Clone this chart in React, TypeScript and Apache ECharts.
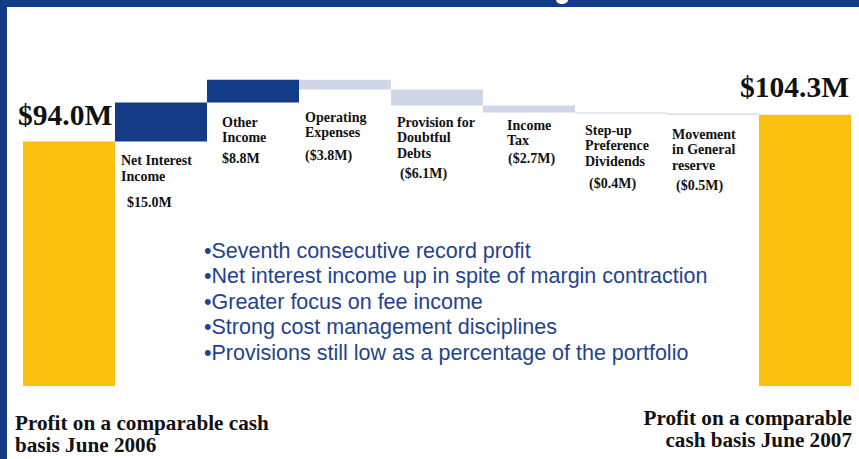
import React, { useEffect, useRef } from "react";
import * as echarts from "echarts";

const categories = [
  "Profit 2006",
  "Net Interest Income",
  "Other Income",
  "Operating Expenses",
  "Provision for Doubtful Debts",
  "Income Tax",
  "Step-up Preference Dividends",
  "Movement in General reserve",
  "Profit 2007",
];
const startValue = 94.0;
const changes = [15.0, 8.8, -3.8, -6.1, -2.7, -0.4, -0.5];
const endValue = 104.3;

const labelLines = [
  ["Net Interest", "Income"],
  ["Other", "Income"],
  ["Operating", "Expenses"],
  ["Provision for", "Doubtful", "Debts"],
  ["Income", "Tax"],
  ["Step-up", "Preference", "Dividends"],
  ["Movement", "in General", "reserve"],
];

const bullets = [
  "Seventh consecutive record profit",
  "Net interest income up in spite of margin contraction",
  "Greater focus on fee income",
  "Strong cost management disciplines",
  "Provisions still low as a percentage of the portfolio",
];

const NAVY = "#133b87";
const GOLD = "#fcc10f";
const LIGHT = "#cfd6e6";
const SERIF = "'Liberation Serif', 'Times New Roman', serif";
const SANS = "'Liberation Sans', Arial, sans-serif";

function fmtChange(v: number) {
  return v >= 0 ? `$${v.toFixed(1)}M` : `($${Math.abs(v).toFixed(1)}M)`;
}

// label layout: [x, first line center y, line height, value x, value y]
const labelPos = [
  [121, 160, 16, 127, 202],
  [222, 122, 15, 222, 158],
  [305, 117, 15, 305, 155],
  [397, 122, 15.5, 400, 173],
  [507, 125, 15, 508, 158],
  [585, 130, 15.5, 589, 183],
  [672, 134, 15.5, 676, 185],
];

export default function App() {
  const ref = useRef<HTMLDivElement>(null);
  useEffect(() => {
    if (!ref.current) return;
    const chart = echarts.init(ref.current, null, { renderer: "svg" });

    const base: number[] = [0];
    const vals: number[] = [startValue];
    const colors: string[] = [GOLD];
    let running = startValue;
    changes.forEach((c) => {
      if (c >= 0) {
        base.push(running);
        vals.push(c);
        colors.push(NAVY);
      } else {
        base.push(running + c);
        vals.push(-c);
        colors.push(LIGHT);
      }
      running += c;
    });
    base.push(0);
    vals.push(endValue);
    colors.push(GOLD);

    const graphics: any[] = [
      { type: "rect", shape: { x: 0, y: 0, width: 859, height: 7 }, style: { fill: NAVY }, z: 10 },
      { type: "rect", shape: { x: 0, y: 0, width: 7, height: 459 }, style: { fill: NAVY }, z: 10 },
      { type: "ellipse", shape: { cx: 562, cy: 0, rx: 6, ry: 4 }, style: { fill: "#ffffff" }, z: 11 },
      {
        type: "text", x: 18, y: 115,
        style: { text: `$${startValue.toFixed(1)}M`, font: `bold 29.5px ${SERIF}`, fill: "#111", textVerticalAlign: "middle" },
      },
      {
        type: "text", x: 849, y: 87,
        style: { text: `$${endValue.toFixed(1)}M`, font: `bold 29.5px ${SERIF}`, fill: "#111", textAlign: "right", textVerticalAlign: "middle" },
      },
      {
        type: "text", x: 15, y: 434, scaleX: 1.06,
        style: { text: "Profit on a comparable cash\nbasis June 2006", font: `bold 20px ${SERIF}`, lineHeight: 22, fill: "#111", textVerticalAlign: "middle" },
      },
      {
        type: "text", x: 852, y: 429, scaleX: 1.06,
        style: { text: "Profit on a comparable\ncash basis June 2007", font: `bold 20px ${SERIF}`, lineHeight: 22, fill: "#111", textAlign: "right", textVerticalAlign: "middle" },
      },
    ];

    labelLines.forEach((lines, i) => {
      const [x, y, lh, vx, vy] = labelPos[i];
      lines.forEach((ln, j) => {
        graphics.push({
          type: "text", x, y: y + j * lh,
          style: { text: ln, font: `bold 14px ${SERIF}`, fill: "#111", textVerticalAlign: "middle" },
        });
      });
      graphics.push({
        type: "text", x: vx, y: vy,
        style: { text: fmtChange(changes[i]), font: `bold 14px ${SERIF}`, fill: "#111", textVerticalAlign: "middle" },
      });
    });

    bullets.forEach((b, i) => {
      graphics.push({
        type: "text", x: 204, y: 251 + i * 25.4,
        style: { text: "\u2022" + b, font: `21.5px ${SANS}`, fill: "#1f438f", textVerticalAlign: "middle" },
      });
    });

    chart.setOption({
      animation: false,
      grid: { left: 23, right: 8, top: 22, bottom: 73 },
      xAxis: { type: "category", data: categories, show: false },
      yAxis: { type: "value", min: 0, max: 140, show: false },
      series: [
        {
          type: "bar", stack: "w", data: base, barCategoryGap: 0,
          itemStyle: { color: "transparent" }, silent: true,
        },
        {
          type: "bar", stack: "w", barCategoryGap: 0,
          data: vals.map((v, i) => ({ value: v, itemStyle: { color: colors[i] } })),
        },
      ],
      graphic: graphics,
    });
    return () => chart.dispose();
  }, []);
  return (
    <div
      ref={ref}
      style={{ position: "fixed", left: 0, top: 0, width: 859, height: 459, background: "#fff" }}
    />
  );
}
